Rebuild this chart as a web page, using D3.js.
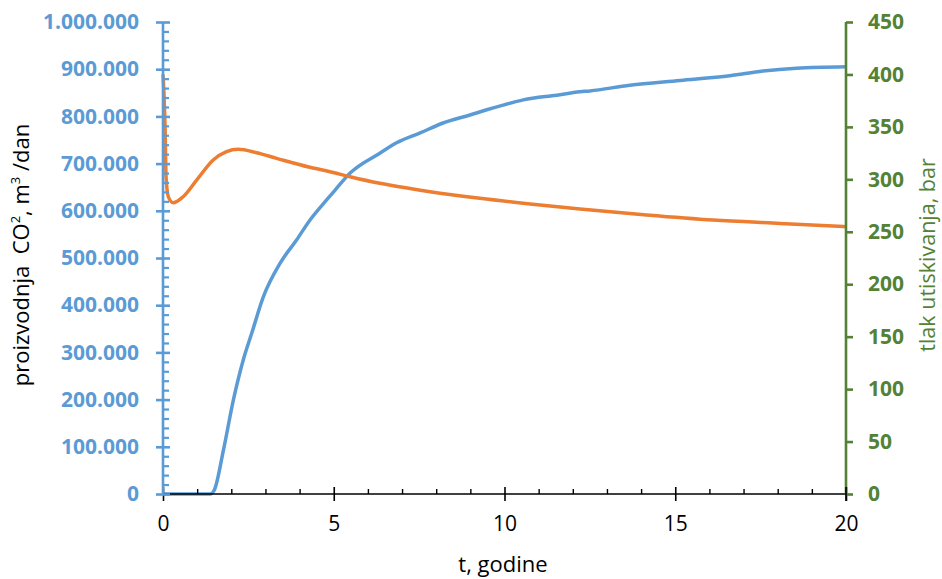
<!DOCTYPE html>
<html><head><meta charset="utf-8">
<script src="https://cdn.jsdelivr.net/npm/d3@7"></script>
<style>body{margin:0;background:#fff;} svg{display:block;}</style>
</head><body>
<svg id="chart" width="942" height="579"></svg>
<script>
// Production of CO2 (m3/day), left axis
const prodT = [0, 0.5, 1.0, 1.38, 1.5, 1.77, 2.06, 2.35, 2.6, 2.94, 3.43, 3.91, 4.3, 4.79, 5.04, 5.48, 6.35, 6.84, 7.53, 8.2, 8.99, 9.48, 9.96, 10.55, 11.53, 12.21, 12.5, 13.67, 15.14, 16.6, 17.57, 18.55, 20];
const prodV = [0, 0, 0, 0, 8000, 93000, 199000, 284000, 341000, 418000, 489000, 538000, 580000, 623000, 644000, 680000, 722000, 744000, 765000, 786000, 803000, 814000, 824000, 835000, 845000, 852000, 854000, 866000, 876000, 886000, 896000, 902000, 905000];
// Injection pressure (bar), right axis
const presT = [0, 0.03, 0.06, 0.09, 0.16, 0.3, 0.59, 0.99, 1.47, 1.86, 2.2, 2.74, 3.33, 4.3, 4.89, 5.48, 6.35, 7.82, 9.28, 10.75, 12.21, 14.16, 16.11, 18.07, 20];
const presV = [400, 380, 350, 302, 283, 277.7, 283.4, 299.4, 318.4, 326.4, 328.6, 325.4, 320, 311.5, 307.3, 302.5, 296.2, 288.2, 281.9, 276.5, 271.7, 266, 261.2, 258, 254.8];
const xTicks = [0, 5, 10, 15, 20];
const leftTicks = [0, 100000, 200000, 300000, 400000, 500000, 600000, 700000, 800000, 900000, 1000000];
const rightTicks = [0, 50, 100, 150, 200, 250, 300, 350, 400, 450];

const blue = "#5B9BD5", orange = "#ED7D31", green = "#548235";
const FONT = "'Open Sans', sans-serif";
const L = 163, R = 846, T = 22, B = 494;
const svg = d3.select("#chart");
const x = d3.scaleLinear().domain([0, 20]).range([L, R]);
const yL = d3.scaleLinear().domain([0, 1000000]).range([B, T]);
const yR = d3.scaleLinear().domain([0, 450]).range([B, T]);
const loc = d3.formatLocale({decimal: ",", thousands: ".", grouping: [3], currency: ["", ""]});
const fmt = loc.format(",d");

// lines
const prod = prodT.map((t, i) => [t, prodV[i]]);
const pres = presT.map((t, i) => [t, presV[i]]);
svg.append("path").datum(prod)
  .attr("d", d3.line().x(d => x(d[0])).y(d => yL(d[1])).curve(d3.curveMonotoneX))
  .attr("fill", "none").attr("stroke", blue).attr("stroke-width", 3.5);
svg.append("path").datum(pres)
  .attr("d", d3.line().x(d => x(d[0])).y(d => yR(d[1])).curve(d3.curveMonotoneX))
  .attr("fill", "none").attr("stroke", orange).attr("stroke-width", 3.5);

// x axis
const gx = svg.append("g").attr("transform", `translate(0,${B})`)
  .call(d3.axisBottom(x).tickValues(xTicks).tickSize(7).tickPadding(15).tickFormat(d3.format("d")));
gx.select(".domain").attr("stroke", "#000").attr("stroke-width", 1.6).attr("d", `M${L},0H${R}`);
gx.selectAll(".tick line").attr("y1", -7).attr("stroke", "#000").attr("stroke-width", 1.6);
gx.selectAll(".tick text").attr("font-family", FONT).attr("font-size", 21).attr("fill", "#000");
const gxm = svg.append("g").attr("transform", `translate(0,${B})`)
  .call(d3.axisBottom(x).tickValues(d3.range(0, 21).filter(v => v % 5 !== 0)).tickSize(-5).tickFormat(""));
gxm.select(".domain").remove();
gxm.selectAll(".tick line").attr("stroke", "#000").attr("stroke-width", 1.4);

// left axis
const gl = svg.append("g").attr("transform", `translate(${L},0)`)
  .call(d3.axisLeft(yL).tickValues(leftTicks).tickSize(7).tickPadding(17).tickFormat(fmt));
gl.select(".domain").attr("stroke", blue).attr("stroke-width", 2.6).attr("d", `M0,${B}V${T}`);
gl.selectAll(".tick line").attr("x1", 7).attr("stroke", blue).attr("stroke-width", 2.6);
gl.selectAll(".tick text").attr("font-family", FONT).attr("font-weight", "bold").attr("font-size", 21).attr("fill", blue);
const glm = svg.append("g").attr("transform", `translate(${L},0)`)
  .call(d3.axisLeft(yL).tickValues(d3.range(0, 1000001, 20000).filter(v => v % 100000 !== 0)).tickSize(-6).tickFormat(""));
glm.select(".domain").remove();
glm.selectAll(".tick line").attr("stroke", blue).attr("stroke-width", 2.2);

// right axis
const gr = svg.append("g").attr("transform", `translate(${R},0)`)
  .call(d3.axisRight(yR).tickValues(rightTicks).tickSize(7).tickPadding(15).tickFormat(d3.format("d")));
gr.select(".domain").attr("stroke", green).attr("stroke-width", 2.6).attr("d", `M0,${B}V${T}`);
gr.selectAll(".tick line").attr("stroke", green).attr("stroke-width", 2.6);
gr.selectAll(".tick text").attr("font-family", FONT).attr("font-weight", "bold").attr("font-size", 21).attr("fill", green);

// x-axis tick drawn over the right axis at 20
svg.append("line").attr("x1", R).attr("x2", R).attr("y1", B - 7).attr("y2", B + 7).attr("stroke", "#000").attr("stroke-width", 1.6);

// titles
const lt = svg.append("text").attr("transform", `translate(29,255) rotate(-90)`)
  .attr("text-anchor", "middle").attr("font-family", FONT).attr("font-size", 22).attr("fill", "#000");
lt.append("tspan").text("proizvodnja\u00a0\u00a0CO");
lt.append("tspan").attr("font-size", 13).attr("dy", -9).text("2");
lt.append("tspan").attr("dy", 9).text(", m");
lt.append("tspan").attr("font-size", 13).attr("dy", -9).text("3");
lt.append("tspan").attr("dy", 9).text(" /dan");

svg.append("text").attr("transform", `translate(935,255) rotate(-90)`)
  .attr("text-anchor", "middle").attr("font-family", FONT).attr("font-size", 21.5).attr("fill", green)
  .text("tlak utiskivanja, bar");

svg.append("text").attr("x", 503).attr("y", 572).attr("text-anchor", "middle")
  .attr("font-family", FONT).attr("font-size", 22).attr("fill", "#000").text("t, godine");
</script>
</body></html>
